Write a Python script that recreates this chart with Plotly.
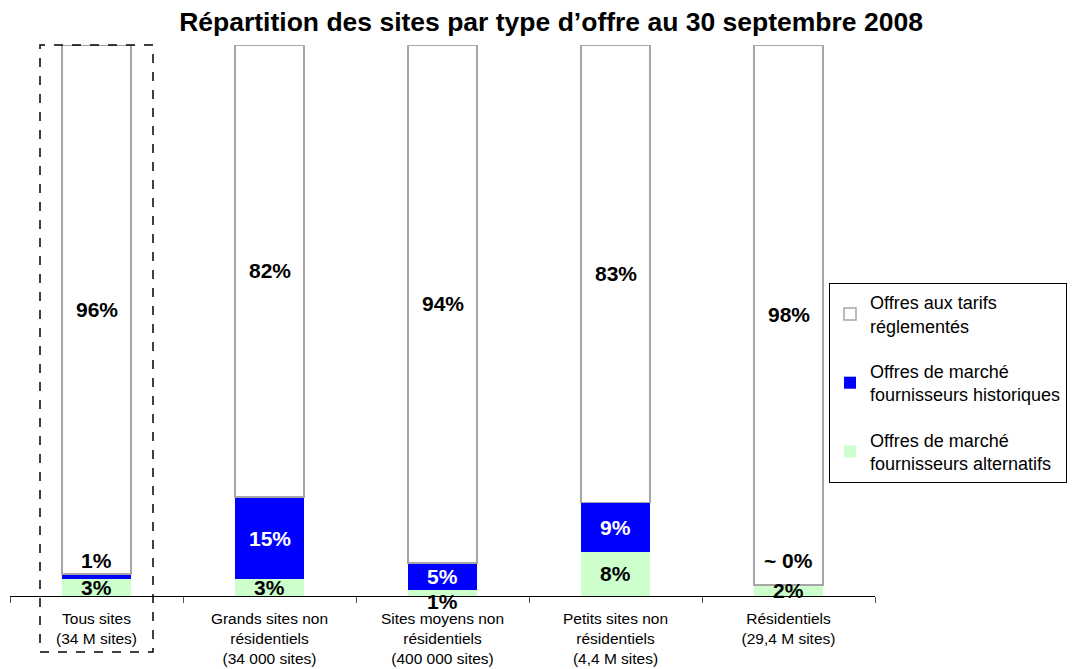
import plotly.graph_objects as go

# categories (x-axis)
categories = [
    "Tous sites<br>(34 M sites)",
    "Grands sites non<br>résidentiels<br>(34 000 sites)",
    "Sites moyens non<br>résidentiels<br>(400 000 sites)",
    "Petits sites non<br>résidentiels<br>(4,4 M sites)",
    "Résidentiels<br>(29,4 M sites)",
]

# shares in %
alternatifs = [3, 3, 1, 8, 2]
historiques = [1, 15, 5, 9, 0]
reglementes = [96, 82, 94, 83, 98]

# text shown on the bars
alt_labels = ["3%", "3%", "1%", "8%", "2%"]
hist_labels = ["1%", "15%", "5%", "9%", "~ 0%"]
reg_labels = ["96%", "82%", "94%", "83%", "98%"]

FONT = "Arial, Liberation Sans, sans-serif"
GREEN = "#CCFFCC"
BLUE = "#0000FF"

# the page body adds an 8px margin, so the figure is drawn 8px smaller
W, H = 1077 - 8, 669 - 8

fig = go.Figure()

fig.add_trace(go.Bar(
    x=categories, y=alternatifs,
    name="Offres de marché<br>fournisseurs alternatifs",
    marker=dict(color=GREEN, line=dict(width=0)),
    legendgroup="c", legendrank=3, hoverinfo="skip",
))
fig.add_trace(go.Bar(
    x=categories, y=historiques,
    name="Offres de marché<br>fournisseurs historiques",
    marker=dict(color=BLUE, line=dict(width=0)),
    legendgroup="b", legendrank=2, hoverinfo="skip",
))
fig.add_trace(go.Bar(
    x=categories, y=reglementes,
    name="Offres aux tarifs<br>réglementés",
    marker=dict(color="white", line=dict(color="#A6A6A6", width=1.5)),
    legendgroup="a", legendrank=1, hoverinfo="skip",
))

# value labels
annotations = []
lab_font = dict(family=FONT, size=21, color="black")
for i, cat in enumerate(categories):
    a, h, r = alternatifs[i], historiques[i], reglementes[i]
    # green segment
    annotations.append(dict(
        x=cat, y=a / 2, text=f"<b>{alt_labels[i]}</b>", showarrow=False,
        font=lab_font, yshift=-8 if a < 2 else 0,
    ))
    # blue segment
    if h >= 3:
        annotations.append(dict(
            x=cat, y=a + h / 2, text=f"<b>{hist_labels[i]}</b>", showarrow=False,
            font=dict(family=FONT, size=21, color="white"),
        ))
    else:
        annotations.append(dict(
            x=cat, y=6.5, text=f"<b>{hist_labels[i]}</b>", showarrow=False,
            font=lab_font,
        ))
    # white segment
    annotations.append(dict(
        x=cat, y=a + h + r / 2, text=f"<b>{reg_labels[i]}</b>", showarrow=False,
        font=lab_font,
    ))

fig.update_layout(
    barmode="stack",
    bargap=0.6,
    width=W, height=H,
    margin=dict(l=2, r=W - 2 - 865, t=37, b=H - 37 - 551),
    paper_bgcolor="white",
    plot_bgcolor="white",
    title=dict(
        text="<b>Répartition des sites par type d’offre au 30 septembre 2008</b>",
        x=0.508, xanchor="center", y=1 - 14 / H, yanchor="middle",
        font=dict(family=FONT, size=26.5, color="black"),
    ),
    font=dict(family=FONT, size=16, color="black"),
    xaxis=dict(
        showline=True, linecolor="black", linewidth=1,
        ticks="outside", tickson="boundaries", ticklen=6, tickcolor="#555555",
        ticklabelstandoff=8, automargin=False,
        tickfont=dict(family=FONT, size=15.5, color="black"),
        range=[-0.5, 4.5], showgrid=False,
    ),
    yaxis=dict(range=[0, 100], visible=False, showgrid=False, automargin=False),
    legend=dict(
        x=(829 - 10) / 865, xanchor="left", y=1 - (283 - 45) / 551, yanchor="top",
        bgcolor="white", bordercolor="black", borderwidth=1,
        traceorder="grouped", tracegroupgap=19,
        font=dict(family=FONT, size=18, color="black"),
    ),
    annotations=annotations,
    shapes=[dict(
        type="rect", xref="paper", yref="paper",
        x0=30 / 865, x1=143 / 865, y0=-56 / 551, y1=1.0,
        line=dict(color="black", width=1.5, dash="dash"),
        fillcolor="rgba(0,0,0,0)", layer="above",
    )],
    showlegend=True,
)

fig.write_html("out.html")
